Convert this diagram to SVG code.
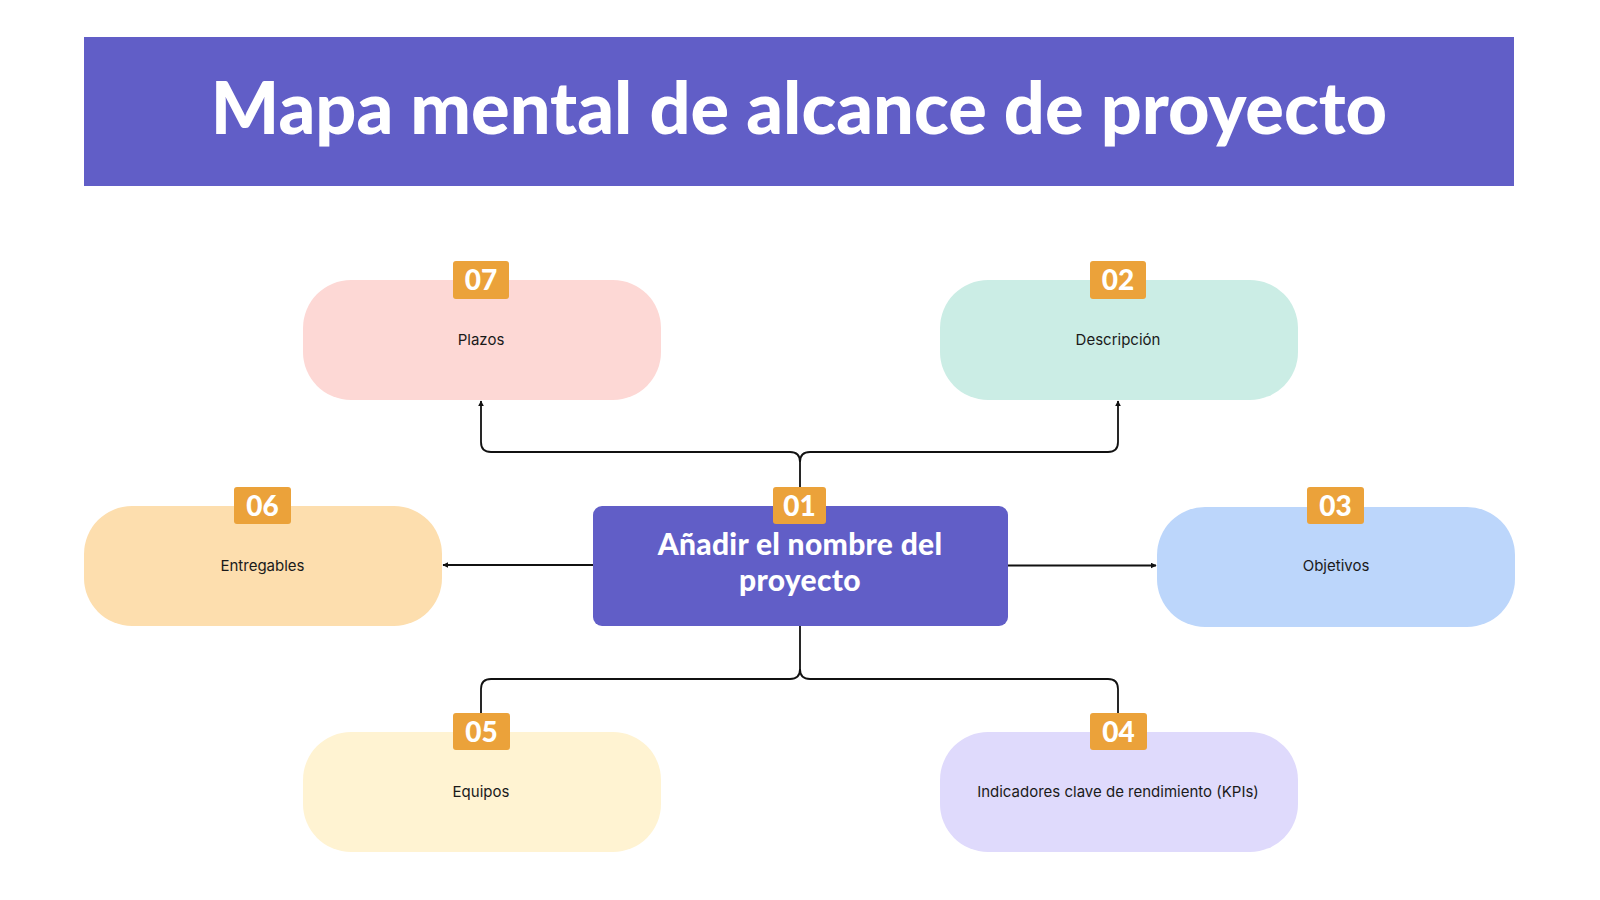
<svg xmlns="http://www.w3.org/2000/svg" width="1600" height="900" viewBox="0 0 1600 900">
<defs>
<marker id="arr" viewBox="0 0 10 10" refX="9" refY="5" markerWidth="6" markerHeight="6" orient="auto-start-reverse" markerUnits="userSpaceOnUse">
<path d="M0,0 L10,5 L0,10 z" fill="#111"/>
</marker>
<style>
.node{stroke:none}
.badge{fill:#eba23a}
.num{font-family:Lato,"Open Sans",sans-serif;font-weight:900;font-size:28px;fill:#fff;text-anchor:middle}
.lbl{font-family:Inter,"Noto Sans",sans-serif;font-size:15px;fill:#1a1a1a;text-anchor:middle}
.conn{fill:none;stroke:#111;stroke-width:1.8}
.title{font-family:Lato,"Open Sans",sans-serif;font-weight:900;font-size:72px;fill:#fff;text-anchor:middle}
.ctr{font-family:Lato,"Open Sans",sans-serif;font-weight:900;font-size:30px;letter-spacing:0.3px;fill:#fff;text-anchor:middle}
</style>
</defs>
<rect width="1600" height="900" fill="#ffffff"/>
<g id="title">
<rect x="84" y="37" width="1430" height="149" fill="#615ec7"/>
<text class="title" x="799" y="134">Mapa mental de alcance de proyecto</text>
</g>
<g id="connectors">
<path class="conn" d="M800,487 V462 Q800,452 790,452 H491 Q481,452 481,442 V401" marker-end="url(#arr)"/>
<path class="conn" d="M800,462 Q800,452 810,452 H1108 Q1118,452 1118,442 V401" marker-end="url(#arr)"/>
<path class="conn" d="M800,626 V669 Q800,679 790,679 H491 Q481,679 481,689 V713"/>
<path class="conn" d="M800,669 Q800,679 810,679 H1108 Q1118,679 1118,689 V713"/>
<path class="conn" d="M593,565 H443" marker-end="url(#arr)"/>
<path class="conn" d="M1008,565.5 H1156" marker-end="url(#arr)"/>
</g>
<g id="node-07">
<rect class="node" x="303" y="280" width="358" height="120" rx="48" fill="#fdd8d5"/>
<rect class="badge" x="453" y="261" width="56" height="38" rx="3"/>
<text class="num" x="481" y="290">07</text>
<text class="lbl" x="481" y="345">Plazos</text>
</g>
<g id="node-02">
<rect class="node" x="940" y="280" width="358" height="120" rx="48" fill="#cbede5"/>
<rect class="badge" x="1090" y="261" width="56" height="38" rx="3"/>
<text class="num" x="1118" y="290">02</text>
<text class="lbl" x="1118" y="345">Descripción</text>
</g>
<g id="node-06">
<rect class="node" x="84" y="506" width="358" height="120" rx="48" fill="#fddeae"/>
<rect class="badge" x="234" y="487" width="57" height="37" rx="3"/>
<text class="num" x="262.5" y="516">06</text>
<text class="lbl" x="262.5" y="571">Entregables</text>
</g>
<g id="node-03">
<rect class="node" x="1157" y="507" width="358" height="120" rx="48" fill="#bcd6fb"/>
<rect class="badge" x="1307" y="487" width="57" height="37" rx="3"/>
<text class="num" x="1335.5" y="516">03</text>
<text class="lbl" x="1336" y="571">Objetivos</text>
</g>
<g id="node-05">
<rect class="node" x="303" y="732" width="358" height="120" rx="48" fill="#fff3d2"/>
<rect class="badge" x="453" y="713" width="57" height="37" rx="3"/>
<text class="num" x="481.5" y="742">05</text>
<text class="lbl" x="481" y="797">Equipos</text>
</g>
<g id="node-04">
<rect class="node" x="940" y="732" width="358" height="120" rx="48" fill="#dfdafc"/>
<rect class="badge" x="1090" y="713" width="57" height="37" rx="3"/>
<text class="num" x="1118.5" y="742">04</text>
<text class="lbl" x="1118" y="797">Indicadores clave de rendimiento (KPIs)</text>
</g>
<g id="node-01">
<rect class="node" x="593" y="506" width="415" height="120" rx="9" fill="#615ec7"/>
<rect class="badge" x="773" y="487" width="53" height="37" rx="3"/>
<text class="num" x="799.5" y="516">01</text>
<text class="ctr" x="800" y="555">Añadir el nombre del</text>
<text class="ctr" x="800" y="591">proyecto</text>
</g>
</svg>
